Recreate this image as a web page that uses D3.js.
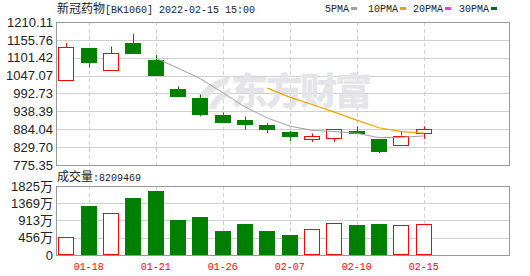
<!DOCTYPE html>
<html>
<head>
<meta charset="utf-8">
<script src="https://cdn.jsdelivr.net/npm/d3@7/dist/d3.min.js"></script>
<style>
body { margin: 0; background: #fff; }
svg { display: block; }
.mono { font-family: "Liberation Mono", "DejaVu Sans Mono", monospace; font-size: 10px; }
.cjk { font-family: "Noto Sans CJK SC", sans-serif; font-size: 12px; }
.axis-label { font-family: "Liberation Sans", Arial, "Noto Sans CJK SC", sans-serif; font-size: 13px; fill: #222; }
</style>
</head>
<body>
<div id="chart"></div>
<script>
// Données
const dates = ["01-17", "01-18", "01-19", "01-20", "01-21", "01-24", "01-25", "01-26", "01-27",
    "01-28", "02-07", "02-08", "02-09", "02-10", "02-11", "02-14", "02-15"];
const opens  = [1034.1, 1131.6, 1064.3, 1146.7, 1095.4, 1007.8, 977.6, 926.3, 912.1, 896.1, 875.9, 854.8, 857.8, 878.9, 853.9, 837.9, 871.1];
const highs  = [1145.8, 1131.6, 1135.5, 1173.9, 1110.5, 1014.8, 989.7, 935.4, 923.3, 902.2, 878.9, 871.1, 885.0, 893.1, 853.9, 878.0, 893.1];
const lows   = [1034.1, 1072.1, 1064.3, 1114.4, 1048.0, 984.6, 923.3, 903.1, 882.0, 872.0, 848.7, 845.7, 845.7, 869.9, 811.6, 837.9, 854.8];
const closes = [1134.6, 1087.2, 1115.6, 1114.4, 1048.0, 984.6, 927.2, 903.1, 896.1, 881.0, 860.8, 862.9, 885.0, 869.9, 814.6, 865.0, 884.0];
// volume en 万
const volumes = [474, 1306, 1114, 1517, 1701, 937, 1009, 640, 832, 640, 535, 693, 851, 798, 832, 798, 820.9];
const ma5  = [null, null, null, null, 1100.0, 1070.0, 1038.0, 995.5, 951.8, 918.4, 893.6, 880.8, 877.2, 871.9, 858.6, 859.5, 863.7];
const ma10 = [null, null, null, null, null, null, null, null, null, 1009.2, 981.8, 959.4, 936.3, 911.9, 888.5, 876.6, 872.2];

const priceTicks = [775.35, 829.70, 884.04, 938.39, 992.73, 1047.07, 1101.42, 1155.76, 1210.11];
const volTicks = [0, 456, 913, 1369, 1825];
const dateTicks = ["01-18", "01-21", "01-26", "02-07", "02-10", "02-15"];
const legendNames = ["5PMA", "10PMA", "20PMA", "30PMA"];
const legendColors = ["#a0a0a0", "#f0a000", "#ff33ff", "#006633"];
const lastVolume = "8209469";

const W = 530, H = 276;
const left = 56, right = 509;
const mainTop = 22, mainBottom = 165;
const volTop = 186, volBottom = 255;
const up = "#ff0000", down = "#008000";
const candleW = 16;

const svg = d3.select("#chart").append("svg")
    .attr("width", W)
    .attr("height", H);

const x = d3.scaleLinear().domain([0, dates.length - 1]).range([66.3, 423.7]);
const y = d3.scaleLinear().domain([priceTicks[0], priceTicks[priceTicks.length - 1]]).range([mainBottom, mainTop]);
const yv = d3.scaleLinear().domain([0, 1825]).range([volBottom, volTop]);

const crisp = v => Math.round(v) + 0.5;

// Grilles
function drawGrid(yScale, ticks, top, bottom) {
    svg.append("g")
        .selectAll("line")
        .data(ticks.slice(1, -1))
        .enter().append("line")
        .attr("x1", left).attr("x2", right)
        .attr("y1", d => crisp(yScale(d))).attr("y2", d => crisp(yScale(d)))
        .attr("stroke", "#cfcfcf");
    svg.append("g")
        .selectAll("line")
        .data(dateTicks)
        .enter().append("line")
        .attr("x1", d => crisp(x(dates.indexOf(d)))).attr("x2", d => crisp(x(dates.indexOf(d))))
        .attr("y1", top).attr("y2", bottom)
        .attr("stroke", "#cfcfcf")
        .attr("stroke-dasharray", "4,3");
}
drawGrid(y, priceTicks, mainTop, mainBottom);
drawGrid(yv, volTicks, volTop, volBottom);

// Filigrane (au-dessus de la grille)
const wm = svg.append("g").attr("fill", "#e4e4e9");
wm.append("path")
    .attr("d", "M193,109 C197,93 208,81 231,76 L227,84 C213,89 206,98 203,109 Z M208,109 C212,99 219,92 231,88 L228,96 C221,99 217,103 216,109 Z");
wm.append("text")
    .attr("x", 231)
    .attr("y", 105)
    .attr("font-family", "'Noto Sans CJK SC', sans-serif")
    .attr("font-weight", 900)
    .attr("font-size", 37)
    .attr("textLength", 141)
    .text("东方财富");

// Bougies
const idx = d3.range(dates.length);
const candles = svg.append("g").selectAll("g").data(idx).enter().append("g");

candles.each(function (i) {
    const g = d3.select(this);
    const isUp = closes[i] >= opens[i];
    const col = isUp ? up : down;
    const cx = crisp(x(i));
    const bTop = y(Math.max(opens[i], closes[i]));
    const bBot = y(Math.min(opens[i], closes[i]));
    if (isUp) {
        g.append("line").attr("x1", cx).attr("x2", cx).attr("y1", y(highs[i])).attr("y2", bTop).attr("stroke", col);
        g.append("line").attr("x1", cx).attr("x2", cx).attr("y1", bBot).attr("y2", y(lows[i])).attr("stroke", col);
        g.append("rect")
            .attr("x", Math.round(x(i)) - candleW / 2 + 0.5)
            .attr("y", Math.round(bTop) + 0.5)
            .attr("width", candleW - 1)
            .attr("height", Math.max(1, Math.round(bBot - bTop)))
            .attr("fill", "#fff")
            .attr("stroke", col);
    } else {
        g.append("line").attr("x1", cx).attr("x2", cx).attr("y1", y(highs[i])).attr("y2", y(lows[i])).attr("stroke", col);
        g.append("rect")
            .attr("x", Math.round(x(i)) - candleW / 2)
            .attr("y", Math.round(bTop))
            .attr("width", candleW)
            .attr("height", Math.max(1, Math.round(bBot - bTop)))
            .attr("fill", col);
    }
});

// Moyennes mobiles
const maLine = d3.line()
    .defined(d => d[1] !== null)
    .x(d => x(d[0]))
    .y(d => y(d[1]));
svg.append("path")
    .attr("d", maLine(ma5.map((v, i) => [i, v])))
    .attr("fill", "none")
    .attr("stroke", legendColors[0])
    .attr("stroke-width", 1);
svg.append("path")
    .attr("d", maLine(ma10.map((v, i) => [i, v])))
    .attr("fill", "none")
    .attr("stroke", legendColors[1])
    .attr("stroke-width", 1.2);

// Volume
svg.append("g").selectAll("rect").data(idx).enter().append("rect")
    .each(function (i) {
        const isUp = closes[i] >= opens[i];
        const r = d3.select(this);
        const top = Math.round(yv(volumes[i]));
        if (isUp) {
            r.attr("x", Math.round(x(i)) - candleW / 2 + 0.5)
                .attr("y", top + 0.5)
                .attr("width", candleW - 1)
                .attr("height", volBottom - top - 1)
                .attr("fill", "#fff")
                .attr("stroke", up);
        } else {
            r.attr("x", Math.round(x(i)) - candleW / 2)
                .attr("y", top)
                .attr("width", candleW)
                .attr("height", volBottom - top)
                .attr("fill", down);
        }
    });

// Cadres
[[mainTop, mainBottom], [volTop, volBottom]].forEach(([t, b]) => {
    svg.append("rect")
        .attr("x", left + 0.5).attr("y", t + 0.5)
        .attr("width", right - left).attr("height", b - t)
        .attr("fill", "none")
        .attr("stroke", "#999");
});

// Etiquettes des axes
svg.append("g").selectAll("text").data(priceTicks).enter().append("text")
    .attr("class", "axis-label")
    .attr("x", 53)
    .attr("y", d => y(d))
    .attr("dy", "0.36em")
    .attr("text-anchor", "end")
    .text(d => d.toFixed(2));

svg.append("g").selectAll("text").data(volTicks).enter().append("text")
    .attr("class", "axis-label")
    .attr("x", 53)
    .attr("y", d => yv(d))
    .attr("dy", "0.36em")
    .attr("text-anchor", "end")
    .text(d => d === 0 ? "0" : d + "万");

svg.append("g").selectAll("text").data(dateTicks).enter().append("text")
    .attr("class", "mono")
    .attr("x", d => x(dates.indexOf(d)))
    .attr("y", 270)
    .attr("text-anchor", "middle")
    .attr("fill", "#ff0000")
    .text(d => d);

// Titre
const title = svg.append("text").attr("x", 57).attr("y", 13).attr("fill", "#222");
title.append("tspan").attr("class", "cjk").text("新冠药物");
title.append("tspan").attr("class", "mono").text("[BK1060] 2022-02-15 15:00");

const volTitle = svg.append("text").attr("x", 57).attr("y", 181).attr("fill", "#222");
volTitle.append("tspan").attr("class", "cjk").text("成交量");
volTitle.append("tspan").attr("class", "mono").text(":" + lastVolume);

// Légende
const legendX = [325, 368, 413, 459];
legendNames.forEach((name, k) => {
    const t = svg.append("text")
        .attr("class", "mono")
        .attr("x", legendX[k])
        .attr("y", 12)
        .attr("fill", "#222")
        .text(name);
    const w = t.node().getComputedTextLength();
    svg.append("rect")
        .attr("x", legendX[k] + w + 2)
        .attr("y", 7)
        .attr("width", 6)
        .attr("height", 3)
        .attr("fill", legendColors[k]);
});
</script>
</body>
</html>
